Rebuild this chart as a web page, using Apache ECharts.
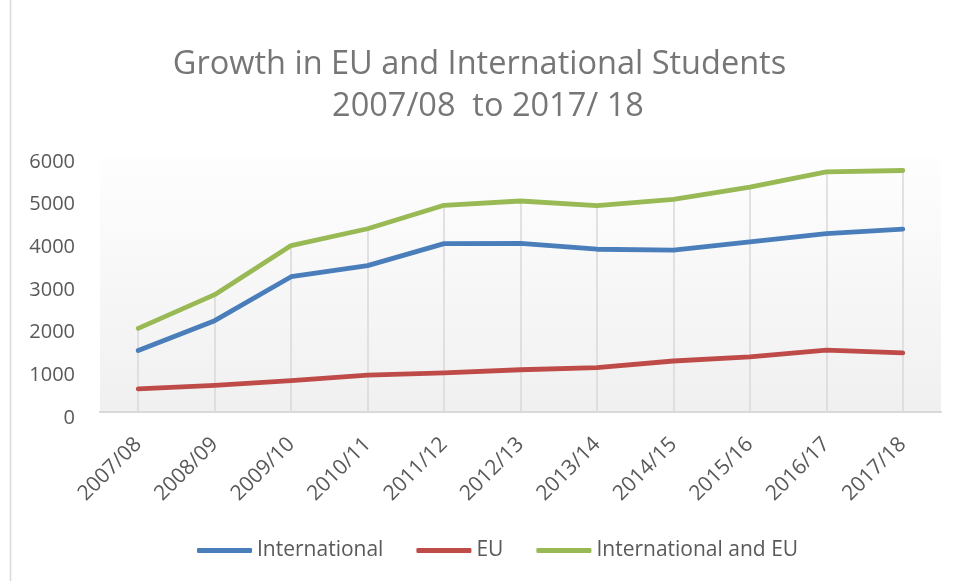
<!DOCTYPE html>
<html>
<head>
<meta charset="utf-8">
<script src="https://cdn.jsdelivr.net/npm/echarts@6/dist/echarts.min.js"></script>
<style>
  html, body { margin: 0; padding: 0; background: #ffffff; }
  #chart { width: 959px; height: 581px; }
</style>
</head>
<body>
<div id="chart"></div>
<script>
// Academic years on the horizontal axis
const years = ['2007/08', '2008/09', '2009/10', '2010/11', '2011/12', '2012/13',
               '2013/14', '2014/15', '2015/16', '2016/17', '2017/18'];

// Student numbers per year
const international = [1440, 2140, 3170, 3430, 3945, 3950, 3815, 3795, 3985, 4180, 4285];
const eu = [540, 625, 735, 865, 915, 990, 1040, 1195, 1290, 1450, 1385];
const internationalAndEu = [1960, 2750, 3900, 4295, 4845, 4945, 4835, 4985, 5270, 5630, 5660];

// Value axis ticks
const yTicks = [0, 1000, 2000, 3000, 4000, 5000, 6000];

const FONT = '"Open Sans", "Noto Sans", sans-serif';
const TEXT = '#595959';

const chart = echarts.init(document.getElementById('chart'), null, { renderer: 'canvas' });

function lineSeries(name, data, color) {
  return {
    name: name,
    type: 'line',
    data: data,
    symbol: 'none',
    smooth: false,
    z: 3,
    lineStyle: { color: color, width: 4.8, cap: 'round', join: 'round' },
    itemStyle: { color: color },
    emphasis: { disabled: true }
  };
}

// Drop lines: from the highest point of each year down to the axis
const yearPeak = years.map((_, i) => Math.max(international[i], eu[i], internationalAndEu[i]));
const dropLines = years.map((y, i) => [
  { coord: [y, yearPeak[i]] },
  { coord: [y, 0] }
]);

const totalSeries = lineSeries('International and EU', internationalAndEu, '#98b954');
totalSeries.markLine = {
  silent: true,
  symbol: ['none', 'none'],
  label: { show: false },
  z: 1,
  lineStyle: { color: '#d9d9d9', width: 1.5, type: 'solid' },
  emphasis: { disabled: true },
  data: dropLines
};

chart.setOption({
  animation: false,
  backgroundColor: '#ffffff',
  title: {
    text: 'Growth in EU and International Students\n  2007/08  to 2017/ 18',
    left: 'center',
    top: 39,
    textStyle: {
      fontFamily: FONT,
      fontSize: 32.5,
      fontWeight: 'normal',
      color: '#767676',
      lineHeight: 42
    }
  },
  graphic: [{
    type: 'line',
    shape: { x1: 10.5, y1: 0, x2: 10.5, y2: 581 },
    style: { stroke: '#d9d9d9', lineWidth: 1.5 },
    silent: true
  }],
  legend: {
    bottom: 15,
    left: 192,
    icon: 'roundRect',
    itemWidth: 55,
    itemHeight: 5,
    itemGap: 33,
    textStyle: { fontFamily: FONT, fontSize: 21, color: TEXT, padding: [6, 0, 0, 0] },
    data: ['International', 'EU', 'International and EU']
  },
  grid: {
    left: 100,
    right: 18,
    top: 156,
    bottom: 169,
    show: true,
    borderWidth: 0,
    backgroundColor: new echarts.graphic.LinearGradient(0, 0, 0, 1, [
      { offset: 0, color: '#fefefe' },
      { offset: 1, color: '#f0f0f0' }
    ])
  },
  xAxis: {
    type: 'category',
    data: years,
    boundaryGap: true,
    axisLine: { show: true, lineStyle: { color: '#d9d9d9', width: 2 } },
    axisTick: { show: false },
    splitLine: { show: false },
    axisLabel: {
      rotate: 45,
      margin: 29,
      interval: 0,
      fontFamily: FONT,
      fontSize: 21,
      color: TEXT
    }
  },
  yAxis: {
    type: 'value',
    min: yTicks[0],
    max: yTicks[yTicks.length - 1],
    interval: yTicks[1] - yTicks[0],
    axisLine: { show: false },
    axisTick: { show: false },
    splitLine: { show: false },
    axisLabel: {
      margin: 25,
      fontFamily: FONT,
      fontSize: 20,
      color: TEXT,
      verticalAlign: 'top',
      lineHeight: 12,
      formatter: (v) => String(v)
    }
  },
  series: [
    lineSeries('International', international, '#4a7ebb'),
    lineSeries('EU', eu, '#be4b48'),
    totalSeries
  ]
});
</script>
</body>
</html>
